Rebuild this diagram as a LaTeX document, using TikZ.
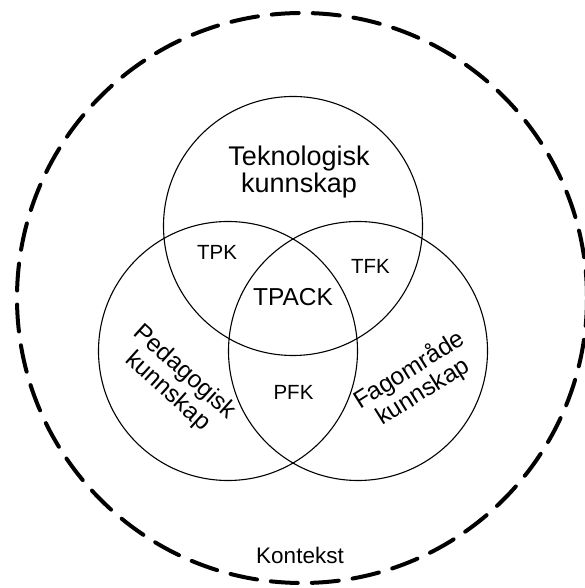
\documentclass[tikz,border=0pt]{standalone}
\usepackage{fontspec}
\setmainfont{Liberation Sans}
\usepackage{tikz}

\begin{document}
\begin{tikzpicture}[x=1pt,y=1pt,
        venn/.style={draw,circle,line width=1.1pt,minimum size=259pt,inner sep=0pt},
        area/.style={inner sep=0pt,align=center},
        big/.style={font=\fontsize{24.5}{25.5}\selectfont},
        small/.style={font=\fontsize{20.5}{22}\selectfont}]
        \useasboundingbox (0,0) rectangle (585,588);

        %context
        \node[draw,circle,line width=4pt,line cap=round,dash pattern=on 27pt off 14pt,
            minimum size=570pt,inner sep=0pt] (ctx) at (302,290) {};
        \node[area,font=\fontsize{22.5}{24}\selectfont] (kontekst) at (300,33) {Kontekst};

        %the three circles
        \node[venn] (tk) at (293,362) {};
        \node[venn] (pk) at (228,237) {};
        \node[venn] (fk) at (358,237) {};

        %labels of circles
        \node[area,font=\fontsize{27}{24.5}\selectfont] (tklabel) at (299,416) {Teknologisk\\kunnskap};
        \node[area,big,rotate=-42] (pklabel) at (176,206) {Pedagogisk\\kunnskap};
        \node[area,big,rotate=32] (fklabel) at (416,207) {Fagområde\\kunnskap};

        %labels of overlaps
        \node[area,small] (tpk) at (217,336) {TPK};
        \node[area,small] (tfk) at (370.5,321.5) {TFK};
        \node[area,small] (pfk) at (293.5,196) {PFK};
        \node[area,font=\fontsize{24.5}{24}\selectfont] (tpack) at (293,291) {TPACK};

\end{tikzpicture}
\end{document}
